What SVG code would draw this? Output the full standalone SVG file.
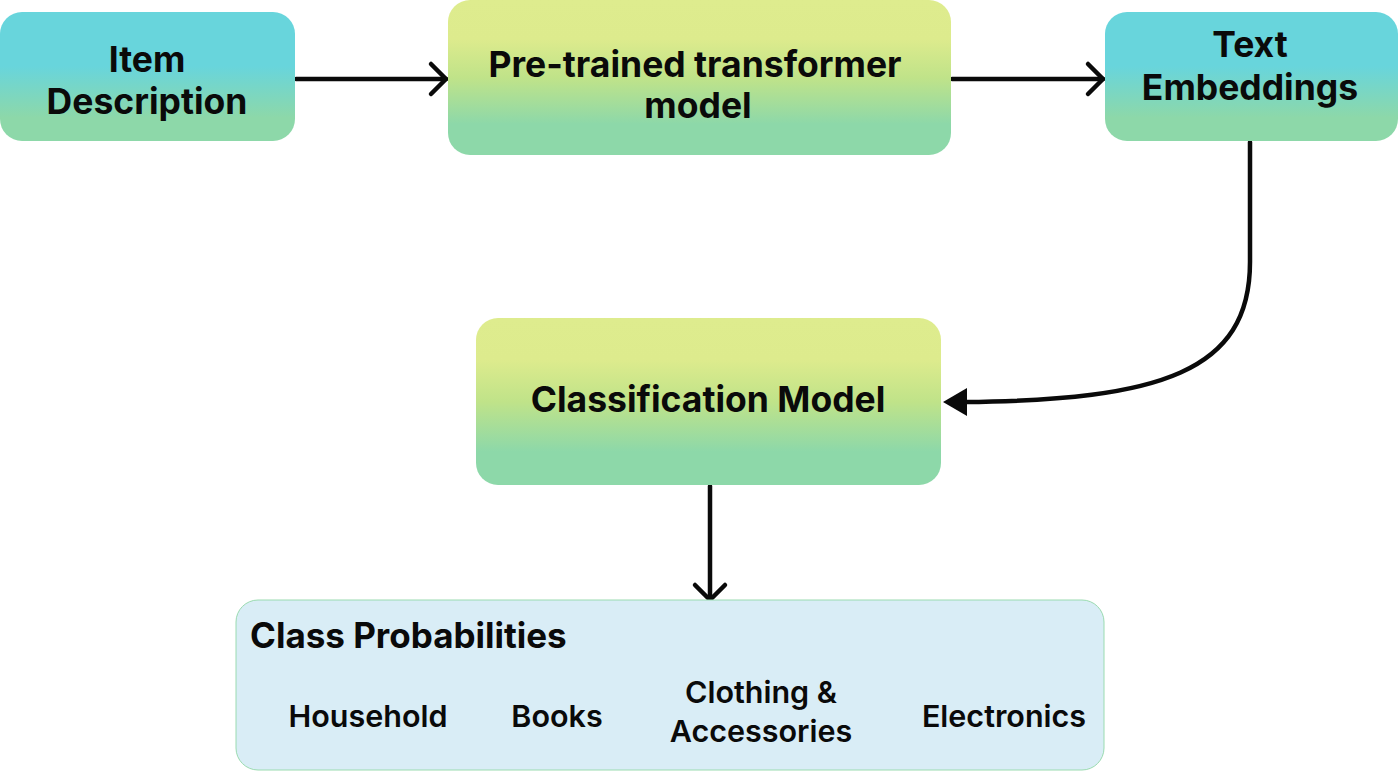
<svg xmlns="http://www.w3.org/2000/svg" width="1400" height="771" viewBox="0 0 1400 771">
<defs>
<linearGradient id="gCyan" x1="0" y1="0" x2="0" y2="1">
<stop offset="0" stop-color="#68D5DC"/>
<stop offset="0.42" stop-color="#68D5DC"/>
<stop offset="0.82" stop-color="#8DD8A9"/>
<stop offset="1" stop-color="#8DD8A9"/>
</linearGradient>
<linearGradient id="gYel" x1="0" y1="0" x2="0" y2="1">
<stop offset="0" stop-color="#DEEC8E"/>
<stop offset="0.25" stop-color="#DDEB8D"/>
<stop offset="0.5" stop-color="#C0E389"/>
<stop offset="0.8" stop-color="#8DD8A9"/>
<stop offset="1" stop-color="#8DD8A9"/>
</linearGradient>
</defs>
<style>
.t{font-family:Inter,"Liberation Sans",sans-serif;font-weight:700;fill:#0a0a0a;text-anchor:middle}
.big{font-size:35.5px}
.cat{font-family:Inter,"Liberation Sans",sans-serif;font-weight:600;font-size:30.5px;fill:#0a0a0a;text-anchor:middle}
.ln{stroke:#0a0a0a;stroke-width:4.5;fill:none;stroke-linecap:round;stroke-linejoin:round}
</style>
<rect width="1400" height="771" fill="#ffffff"/>
<g id="connectors">
<path class="ln" d="M296,79 L446,79"/>
<path class="ln" d="M431,64 L446,79 L431,94"/>
<path class="ln" d="M952,79 L1103,79"/>
<path class="ln" d="M1088,64 L1103,79 L1088,94"/>
<path class="ln" d="M1250,142 L1250,262 C1250,372 1160,400 965,402"/>
<polygon points="943,402 967,388 967,416" fill="#0a0a0a"/>
<path class="ln" d="M710,486 L710,600"/>
<path class="ln" d="M695,585 L710,600 L725,585"/>
</g>
<g id="item-description">
<rect x="0" y="12" width="295" height="129" rx="22" fill="url(#gCyan)"/>
<text class="t big" x="147" y="72">Item</text>
<text class="t big" x="147" y="114">Description</text>
</g>
<g id="pretrained-model">
<rect x="448" y="0" width="503" height="155" rx="22" fill="url(#gYel)"/>
<text class="t big" x="695" y="77">Pre-trained transformer</text>
<text class="t big" x="698" y="118">model</text>
</g>
<g id="text-embeddings">
<rect x="1105" y="12" width="293" height="129" rx="22" fill="url(#gCyan)"/>
<text class="t big" x="1250" y="57">Text</text>
<text class="t big" x="1250" y="100">Embeddings</text>
</g>
<g id="classification-model">
<rect x="476" y="318" width="465" height="167" rx="22" fill="url(#gYel)"/>
<text class="t big" x="708" y="412">Classification Model</text>
</g>
<g id="class-probabilities">
<rect x="236" y="600" width="868" height="170" rx="22" fill="#D9EDF6" stroke="#9ADBB0" stroke-width="1"/>
<text class="t" x="250" y="648" style="font-size:35px;text-anchor:start">Class Probabilities</text>
<text class="cat" x="368" y="727">Household</text>
<text class="cat" x="557" y="727">Books</text>
<text class="cat" x="761" y="703">Clothing &amp;</text>
<text class="cat" x="761" y="742">Accessories</text>
<text class="cat" x="1004" y="727">Electronics</text>
</g>
</svg>
